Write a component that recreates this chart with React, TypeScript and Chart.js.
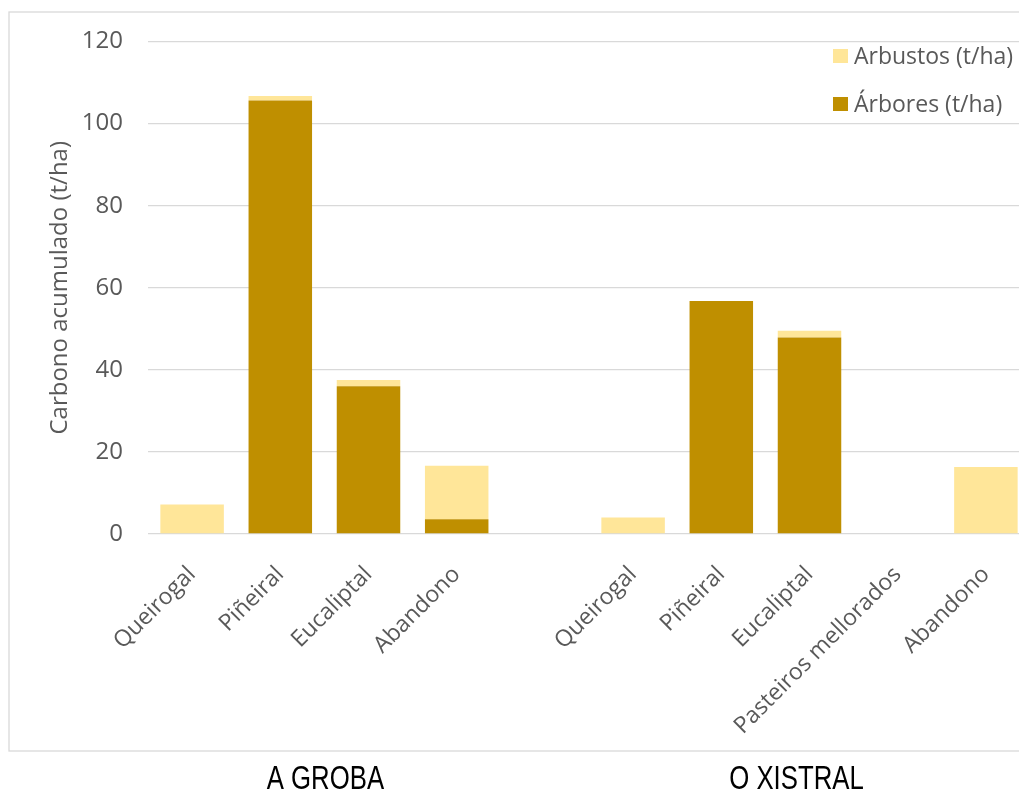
import React, { useEffect, useRef } from "react";
import { Chart, registerables } from "chart.js";

Chart.register(...registerables);

const categories = [
  "Queirogal",
  "Piñeiral",
  "Eucaliptal",
  "Abandono",
  "",
  "Queirogal",
  "Piñeiral",
  "Eucaliptal",
  "Pasteiros mellorados",
  "Abandono",
];
const arbores: (number | null)[] = [0, 105.6, 36.0, 3.6, null, 0, 56.8, 47.9, 0, 0];
const arbustos: (number | null)[] = [7.2, 1.1, 1.5, 13.0, null, 4.0, 0, 1.6, 0, 16.3];
const yTicks = [0, 20, 40, 60, 80, 100, 120];
const seriesLabels = ["Árbores (t/ha)", "Arbustos (t/ha)"];
const seriesColors = ["#BF8F00", "#FFE699"];
const groupNames = ["A GROBA", "O XISTRAL"];
const groupFrom = [0, 5];
const groupTo = [3, 9];
const groupShift = [1, -13];

const FONT = "'Open Sans', 'Noto Sans', sans-serif";

const decor = {
  id: "decor",
  afterDraw(chart: any) {
    const ctx: CanvasRenderingContext2D = chart.ctx;
    ctx.save();
    // outer frame
    ctx.strokeStyle = "#d9d9d9";
    ctx.lineWidth = 1.3;
    ctx.strokeRect(9, 12, chart.width + 20, 751 - 12);

    // legend (reversed order, top = last dataset)
    const ds = [...chart.data.datasets].reverse();
    ds.forEach((d: any, i: number) => {
      const cy = 56 + i * 48;
      ctx.fillStyle = d.backgroundColor;
      ctx.fillRect(833, cy - 7, 15, 14);
      ctx.fillStyle = "#595959";
      ctx.font = `23px ${FONT}`;
      ctx.textAlign = "left";
      ctx.textBaseline = "middle";
      ctx.fillText(d.label, 854, cy + 1);
    });

    // group labels (condensed sans)
    const xs = chart.scales.x;
    ctx.fillStyle = "#000000";
    ctx.font = "33px 'Liberation Sans', Arial, sans-serif";
    ctx.textAlign = "center";
    ctx.textBaseline = "alphabetic";
    groupNames.forEach((g, i) => {
      const cx = (xs.getPixelForValue(groupFrom[i]) + xs.getPixelForValue(groupTo[i])) / 2 + groupShift[i];
      ctx.save();
      ctx.translate(cx, 789);
      ctx.scale(0.78, 1);
      ctx.fillText(g, 0, 0);
      ctx.restore();
    });
    ctx.restore();
  },
};

export default function App() {
  const ref = useRef<HTMLCanvasElement | null>(null);

  useEffect(() => {
    if (!ref.current) return;
    const chart = new Chart(ref.current, {
      type: "bar",
      data: {
        labels: categories,
        datasets: [
          {
            label: seriesLabels[0],
            data: arbores,
            backgroundColor: seriesColors[0],
            borderWidth: 0,
            barPercentage: 0.72,
            categoryPercentage: 1,
          },
          {
            label: seriesLabels[1],
            data: arbustos,
            backgroundColor: seriesColors[1],
            borderWidth: 0,
            barPercentage: 0.72,
            categoryPercentage: 1,
          },
        ],
      },
      options: {
        animation: false,
        responsive: false,
        layout: { padding: { top: 41.5, right: 10, bottom: 0, left: 0 } },
        plugins: { legend: { display: false }, tooltip: { enabled: false } },
        scales: {
          x: {
            stacked: true,
            offset: true,
            grid: { display: false, drawTicks: false },
            border: { display: false },
            ticks: {
              autoSkip: false,
              minRotation: 45,
              maxRotation: 45,
              color: "#595959",
              font: { family: FONT, size: 23 },
              padding: 27,
            },
            afterFit(s: any) {
              s.height = 789 - 534;
            },
          },
          y: {
            stacked: true,
            min: 0,
            max: 120,
            afterBuildTicks(s: any) {
              s.ticks = yTicks.map((v) => ({ value: v }));
            },
            ticks: { color: "#595959", font: { family: FONT, size: 24 }, padding: 25 },
            grid: { color: "#d9d9d9", lineWidth: 1.3, drawTicks: false },
            border: { display: false },
            title: {
              display: true,
              text: "Carbono acumulado (t/ha)",
              color: "#595959",
              font: { family: FONT, size: 24, weight: "normal" },
              padding: { top: 46, bottom: 0 },
            },
            afterFit(s: any) {
              s.width = 148;
            },
          },
        },
      },
      plugins: [decor],
    } as any);
    return () => chart.destroy();
  }, []);

  return (
    <div
      style={{
        position: "fixed",
        left: 0,
        top: 0,
        width: 1019,
        height: 789,
        overflow: "hidden",
        background: "#ffffff",
      }}
    >
      <canvas ref={ref} width={1040} height={789} style={{ display: "block" }} />
    </div>
  );
}
